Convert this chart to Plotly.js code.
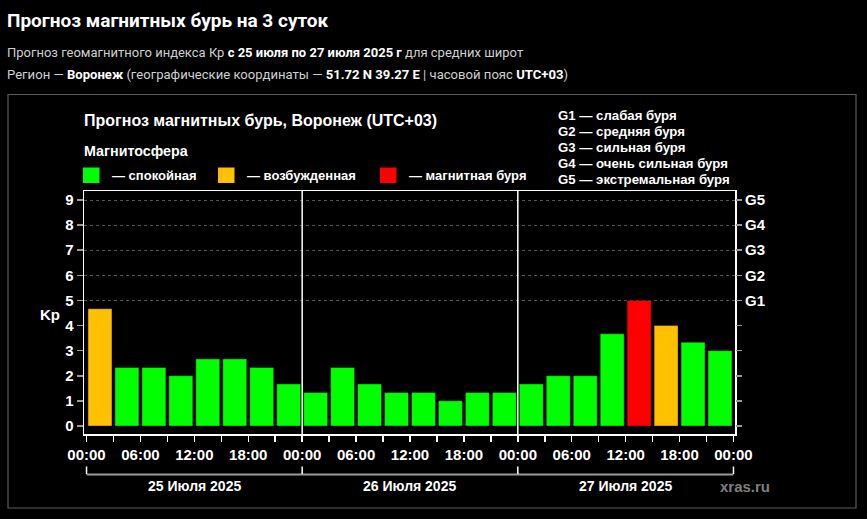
<!DOCTYPE html>
<html><head><meta charset="utf-8">
<script src="https://cdn.plot.ly/plotly-3.0.1.min.js"></script>
<style>html,body{margin:0;padding:0;background:#000;overflow:hidden}</style>
</head><body><div id="chart" style="width:867px;height:519px"></div>
<script>
// ---- data ----
const slotStartHours = [0,3,6,9,12,15,18,21, 24,27,30,33,36,39,42,45, 48,51,54,57,60,63,66,69];
const kpValues = [4.67,2.33,2.33,2.00,2.67,2.67,2.33,1.67, 1.33,2.33,1.67,1.33,1.33,1.00,1.33,1.33, 1.67,2.00,2.00,3.67,5.00,4.00,3.33,3.00];
const timeTickVals = [0,6,12,18,24,30,36,42,48,54,60,66,72];
const timeTickText = ['00:00','06:00','12:00','18:00','00:00','06:00','12:00','18:00','00:00','06:00','12:00','18:00','00:00'];
const dayStartHours = [0,24,48,72];
const dayLabels = ['25 Июля 2025','26 Июля 2025','27 Июля 2025'];
const kpTicks = [0,1,2,3,4,5,6,7,8,9];
const stormKp = [5,6,7,8,9];
const stormLevels = ['G1','G2','G3','G4','G5'];
const stormNames = ['слабая буря','средняя буря','сильная буря','очень сильная буря','экстремальная буря'];
const stateNames = ['спокойная','возбужденная','магнитная буря'];
const stateColors = ['#00ff00','#ffc000','#ff0000'];

// ---- helpers ----
const L=84, R=735, T=191, B=434;
const px = x => (x-L)/(R-L);
const py = y => (B-y)/(B-T);
const FONT = 'Liberation Sans, Arial, Helvetica, sans-serif';
const NARROW = 'Liberation Sans Narrow, Arial Narrow, Roboto, Liberation Sans, sans-serif';
const colorFor = v => v >= 5 ? stateColors[2] : (v >= 4 ? stateColors[1] : stateColors[0]);

const yRange = [-0.32, 9.36];
const xRange = [-0.28, 72.17];

const traces = [{
  type:'bar', x: slotStartHours, y: kpValues, offset: 0.17, width: 2.66,
  marker:{color: kpValues.map(colorFor), line:{color:'rgba(0,0,0,0.35)', width:1}},
  hoverinfo:'skip', showlegend:false
},{
  type:'scatter', x:[slotStartHours[0]], y:[null], yaxis:'y2', hoverinfo:'skip', showlegend:false
},{
  type:'scatter', x:[slotStartHours[0]], y:[null], yaxis:'y3', hoverinfo:'skip', showlegend:false
}];

const shapes = [];
const annotations = [];

// chart box
shapes.push({type:'rect', xref:'paper', yref:'paper', x0:px(8), x1:px(856), y0:py(94.5), y1:py(508), line:{color:'#5a5a5a', width:1.2}, layer:'below'});
// day separators
dayStartHours.slice(1,-1).forEach(h => shapes.push({type:'line', xref:'x', yref:'paper', x0:h, x1:h, y0:0, y1:1, line:{color:'#ffffff', width:1.5}, layer:'above'}));
// date bracket
shapes.push({type:'line', xref:'x', yref:'paper', x0:dayStartHours[0], x1:dayStartHours[dayStartHours.length-1], y0:py(474.5), y1:py(474.5), line:{color:'#9a9a9a', width:2}});
dayStartHours.forEach(h => shapes.push({type:'line', xref:'x', yref:'paper', x0:h, x1:h, y0:py(466.5), y1:py(474), line:{color:'#ffffff', width:1.5}}));
dayLabels.forEach((d,i) => annotations.push({xref:'x', yref:'paper', x:dayStartHours[i]+12, y:py(485.5), text:'<b>'+d+'</b>', showarrow:false, xanchor:'center', yanchor:'middle', font:{family:FONT, size:14, color:'#ffffff'}}));

// header
annotations.push({xref:'paper', yref:'paper', x:px(5), y:py(20), xanchor:'left', yanchor:'middle', showarrow:false,
  text:'<b>Прогноз магнитных бурь на 3 суток</b>', font:{family:NARROW, size:19, color:'#ffffff'}});
annotations.push({xref:'paper', yref:'paper', x:px(5), y:py(52), xanchor:'left', yanchor:'middle', showarrow:false,
  text:'Прогноз геомагнитного индекса Кр <span style="color:#ffffff"><b>с 25 июля по 27 июля 2025 г</b></span> для средних широт', font:{family:NARROW, size:13, color:'#cfcfcf'}});
annotations.push({xref:'paper', yref:'paper', x:px(5), y:py(74), xanchor:'left', yanchor:'middle', showarrow:false,
  text:'Регион — <span style="color:#ffffff"><b>Воронеж</b></span> (географические координаты — <span style="color:#ffffff"><b>51.72 N 39.27 E</b></span> | часовой пояс <span style="color:#ffffff"><b>UTC+03</b></span>)', font:{family:NARROW, size:13.1, color:'#cfcfcf'}});

// chart title
annotations.push({xref:'paper', yref:'paper', x:px(82), y:py(120), xanchor:'left', yanchor:'middle', showarrow:false,
  text:'<b>Прогноз магнитных бурь, Воронеж (UTC+03)</b>', font:{family:FONT, size:16, color:'#ffffff'}});
annotations.push({xref:'paper', yref:'paper', x:px(82), y:py(151), xanchor:'left', yanchor:'middle', showarrow:false,
  text:'<b>Магнитосфера</b>', font:{family:FONT, size:14.3, color:'#ffffff'}});

// state legend
const legSq = [83, 218, 380];
stateNames.forEach((n,i) => {
  shapes.push({type:'rect', xref:'paper', yref:'paper', x0:px(legSq[i]), x1:px(legSq[i]+16.5), y0:py(183), y1:py(167.5), fillcolor:stateColors[i], line:{width:0}});
  annotations.push({xref:'paper', yref:'paper', x:px(legSq[i]+27), y:py(175.5), xanchor:'left', yanchor:'middle', showarrow:false,
    text:'<b>— '+n+'</b>', font:{family:FONT, size:13, color:'#ffffff'}});
});

// storm level legend
stormLevels.forEach((g,i) => annotations.push({xref:'paper', yref:'paper', x:px(556), y:py(115+16*i), xanchor:'left', yanchor:'middle', showarrow:false,
  text:'<b>'+g+' — '+stormNames[i]+'</b>', font:{family:FONT, size:13.2, color:'#ffffff'}}));

// Kp label
annotations.push({xref:'paper', yref:'paper', x:px(50), y:py(314), xanchor:'center', yanchor:'middle', showarrow:false,
  text:'<b>Kp</b>', font:{family:FONT, size:15, color:'#ffffff'}});

// watermark
annotations.push({xref:'paper', yref:'paper', x:px(718), y:py(486), xanchor:'left', yanchor:'middle', showarrow:false,
  text:'<b>xras.ru</b>', font:{family:FONT, size:15, color:'#7f7f7f'}});

const layout = {
  width:867, height:519,
  margin:{l:L, r:867-R, t:T, b:519-B, pad:0},
  paper_bgcolor:'#000', plot_bgcolor:'#000',
  showlegend:false, bargap:0,
  font:{family:FONT, color:'#ffffff'},
  xaxis:{range:xRange, tickmode:'array', tickvals:timeTickVals, ticktext:timeTickText,
    ticks:'outside', ticklen:6, tickwidth:1.5, tickcolor:'#ffffff',
    minor:{tickvals:slotStartHours.concat([72]), ticks:'outside', ticklen:6, tickwidth:1.5, tickcolor:'#ffffff', showgrid:false},
    tickfont:{family:FONT, size:15, color:'#ffffff', weight:'bold'},
    showline:true, linecolor:'#ffffff', linewidth:1.5, mirror:true, showgrid:false, zeroline:false, fixedrange:true},
  yaxis:{range:yRange, tickmode:'array', tickvals:kpTicks, ticks:'outside', ticklen:6, tickwidth:1.5, tickcolor:'#9a9a9a',
    tickfont:{family:FONT, size:15, color:'#ffffff', weight:'bold'},
    showline:true, linecolor:'#ffffff', linewidth:1.5, mirror:true, showgrid:false, zeroline:false, fixedrange:true},
  yaxis2:{overlaying:'y', side:'right', anchor:'x', range:yRange, tickmode:'array', tickvals:kpTicks,
    ticktext:kpTicks.map(k => { const i = stormKp.indexOf(k); return i >= 0 ? stormLevels[i] : ''; }),
    ticks:'outside', ticklen:6, tickwidth:1.5, tickcolor:'#9a9a9a',
    tickfont:{family:FONT, size:15, color:'#ffffff', weight:'bold'},
    showline:false, showgrid:false, zeroline:false, fixedrange:true},
  yaxis3:{overlaying:'y', anchor:'x', range:yRange, tickmode:'array', tickvals:stormKp, showticklabels:false, ticks:'',
    showgrid:true, gridcolor:'#555555', gridwidth:1, griddash:'3px,3px', showline:false, zeroline:false, fixedrange:true},
  shapes, annotations
};

Plotly.newPlot('chart', traces, layout, {displayModeBar:false, staticPlot:true});
</script></body></html>
